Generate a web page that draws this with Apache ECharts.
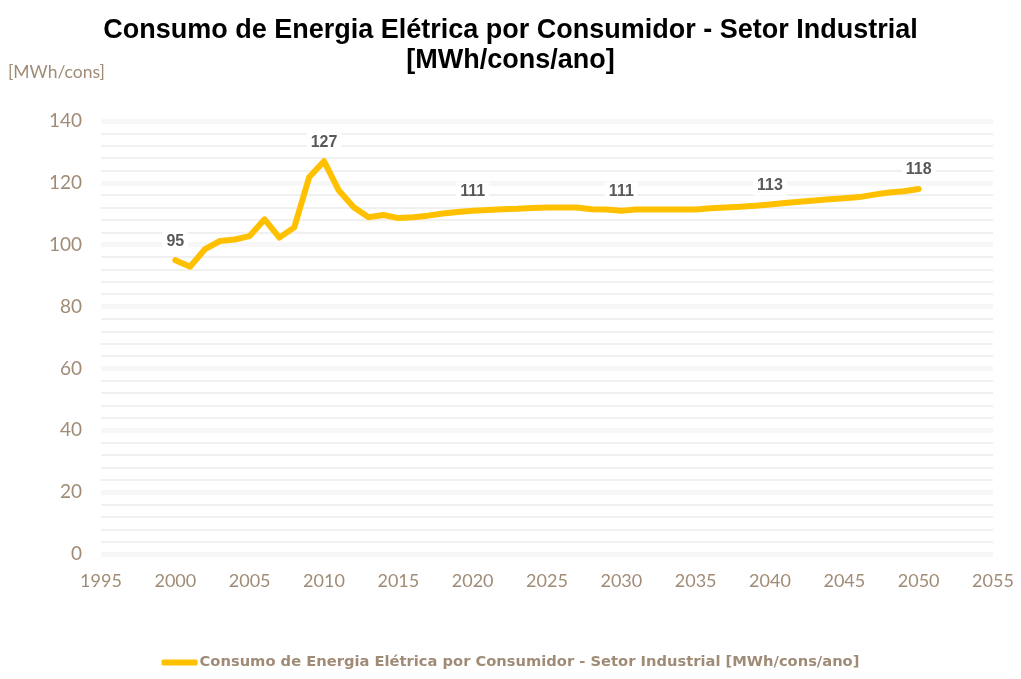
<!DOCTYPE html>
<html>
<head>
<meta charset="utf-8">
<script src="https://cdn.jsdelivr.net/npm/echarts@6/dist/echarts.min.js"></script>
<style>
  html, body { margin: 0; padding: 0; background: #fff; }
  #chart { width: 1021px; height: 679px; }
</style>
</head>
<body>
<div id="chart"></div>
<script>
// Industrial electricity consumption per consumer, 2000–2050
const years = [];
for (let y = 2000; y <= 2050; y++) years.push(y);

const consumption = [
  95, 92.9, 98.6, 101.2, 101.7, 102.8, 108.2, 102.3, 105.6, 121.8,
  127, 117.5, 112.1, 108.9, 109.6, 108.6, 108.9, 109.4, 110.1, 110.6,
  111, 111.2, 111.5, 111.6, 111.9, 112.0, 112.0, 112.0, 111.5, 111.4,
  111, 111.4, 111.4, 111.4, 111.4, 111.4, 111.8, 112.0, 112.3, 112.6,
  113, 113.5, 113.9, 114.3, 114.7, 115.0, 115.4, 116.2, 116.9, 117.3,
  118
];

const labeledYears = [2000, 2010, 2020, 2030, 2040, 2050];

const seriesName = 'Consumo de Energia Elétrica por Consumidor - Setor Industrial [MWh/cons/ano]';
const titleText = 'Consumo de Energia Elétrica por Consumidor - Setor Industrial\n[MWh/cons/ano]';
const yAxisName = '[MWh/cons]';

const axisColor = '#A08C76';
const lineColor = '#FFC000';

const points = years.map((y, i) => ({
  value: [y, consumption[i]],
  label: { show: labeledYears.includes(y) }
}));

const chart = echarts.init(document.getElementById('chart'));
chart.setOption({
  animation: false,
  title: {
    text: titleText,
    left: 'center',
    top: 11,
    textStyle: {
      fontFamily: 'Liberation Sans, Arial, sans-serif',
      fontWeight: 'bold',
      fontSize: 27,
      lineHeight: 30,
      color: '#000'
    }
  },
  grid: { left: 101, right: 28, top: 121, bottom: 125 },
  legend: {
    bottom: 4,
    left: 'center',
    icon: 'roundRect',
    itemWidth: 36,
    itemHeight: 6,
    itemGap: 0,
    textStyle: {
      fontFamily: 'DejaVu Sans, sans-serif',
      fontWeight: 'bold',
      fontSize: 14.7,
      color: axisColor,
      padding: [0, 0, 0, -3]
    },
    data: [seriesName]
  },
  xAxis: {
    type: 'value',
    min: 1995,
    max: 2055,
    interval: 5,
    axisLine: { show: false },
    axisTick: { show: false },
    splitLine: { show: false },
    axisLabel: {
      margin: 18,
      fontFamily: 'Lato, sans-serif',
      fontSize: 18,
      color: axisColor,
      formatter: v => String(v)
    }
  },
  yAxis: {
    type: 'value',
    min: 0,
    max: 140,
    interval: 20,
    name: yAxisName,
    nameLocation: 'end',
    nameGap: 40,
    nameTextStyle: {
      fontFamily: 'Lato, sans-serif',
      fontSize: 17.5,
      color: axisColor,
      align: 'left',
      padding: [0, 0, 0, -93]
    },
    axisLine: { show: false },
    axisTick: { show: false },
    axisLabel: {
      margin: 19,
      fontFamily: 'Lato, sans-serif',
      fontSize: 19,
      color: axisColor
    },
    splitLine: { show: true, lineStyle: { color: '#F7F7F7', width: 5 } },
    minorTick: { show: false, splitNumber: 5 },
    minorSplitLine: { show: true, lineStyle: { color: '#F0F0F0', width: 2 } }
  },
  series: [{
    name: seriesName,
    type: 'line',
    data: points,
    symbol: 'circle',
    symbolSize: 0,
    showSymbol: true,
    showAllSymbol: true,
    lineStyle: { color: lineColor, width: 6, cap: 'round', join: 'round' },
    itemStyle: { color: lineColor },
    label: {
      position: 'top',
      distance: 9,
      formatter: p => Math.round(p.value[1]),
      fontFamily: 'Liberation Sans, Arial, sans-serif',
      fontWeight: 'bold',
      fontSize: 16,
      color: '#595959',
      backgroundColor: '#fff',
      padding: [2, 4]
    }
  }]
});
</script>
</body>
</html>
